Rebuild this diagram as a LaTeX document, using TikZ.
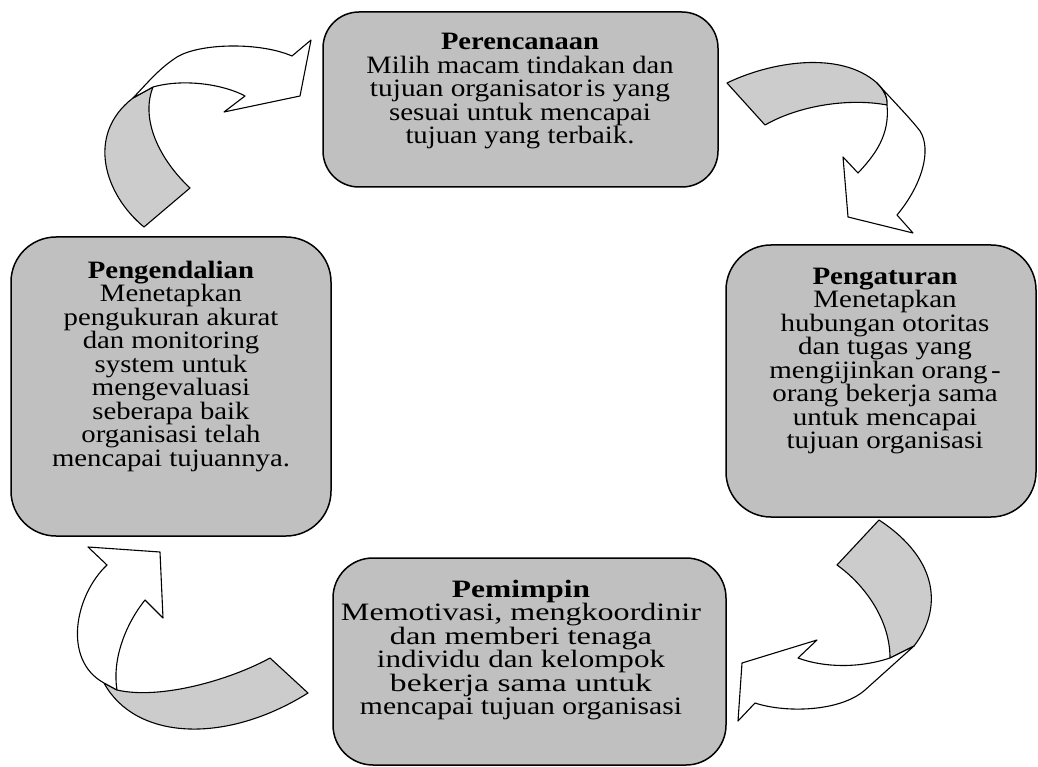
\documentclass[tikz,border=0pt]{standalone}
\usepackage{fontspec}
\setmainfont{Liberation Serif}
\usepackage{graphicx}
\definecolor{boxgray}{HTML}{C0C0C0}
\definecolor{arrgray}{HTML}{CCCCCC}
\newcommand\xs[2]{\rule[-6pt]{0pt}{23.5pt}\scalebox{#1}[1]{#2}}
\newcommand\lw[2]{\rule[-6pt]{0pt}{23.5pt}\resizebox{#1pt}{\height}{#2}}
\begin{document}
\begin{tikzpicture}[x=1pt,y=-1pt,
  box/.style={draw=black, line width=1.5pt, fill=boxgray, rounded corners=#1, inner sep=0pt},
  txt/.style={align=center, inner sep=0pt, font=\fontsize{25}{23.5}\selectfont},
  arrback/.style={draw=black, line width=1.1pt, fill=arrgray, line join=round},
  arrfront/.style={draw=black, line width=1.1pt, fill=white, line join=round}]
\useasboundingbox (0,0) rectangle (1038,767);

% boxes
\node[box=36, minimum width=395pt, minimum height=175pt] (per) at (520.5,99.5) {};
\node[box=45, minimum width=320pt, minimum height=299pt] (pgd) at (171,386.5) {};
\node[box=45, minimum width=310pt, minimum height=272pt] (pgt) at (881,381) {};
\node[box=40, minimum width=393pt, minimum height=207pt] (pem) at (529.5,661.5) {};

% texts
\node[txt] (perT) at (520,91.25) {\lw{158}{\textbf{Perencanaan}}\\
  \lw{307}{Milih macam tindakan dan}\\
  \lw{300}{tujuan organisator\hspace{3pt}is yang}\\
  \lw{262}{sesuai untuk mencapai}\\
  \lw{229}{tujuan yang terbaik.}};

\node[txt] (pgdT) at (171,366.25) {\xs{1.15}{\textbf{Pengendalian}}\\
  \xs{1.15}{Menetapkan}\\
  \xs{1.15}{pengukuran akurat}\\
  \xs{1.15}{dan monitoring}\\
  \xs{1.15}{system untuk}\\
  \xs{1.15}{mengevaluasi}\\
  \xs{1.15}{seberapa baik}\\
  \xs{1.15}{organisasi telah}\\
  \xs{1.15}{mencapai tujuannya.}};

\node[txt] (pgtT) at (885,360.5) {\xs{1.16}{\textbf{Pengaturan}}\\
  \xs{1.16}{Menetapkan}\\
  \xs{1.16}{hubungan otoritas}\\
  \xs{1.16}{dan tugas yang}\\
  \xs{1.16}{mengijinkan orang\hspace{3pt}-}\\
  \xs{1.16}{orang bekerja sama}\\
  \xs{1.16}{untuk mencapai}\\
  \xs{1.16}{tujuan organisasi}};

\node[txt] (pemT) at (521,650) {\lw{138}{\textbf{Pemimpin}}\\
  \lw{360}{Memotivasi, mengkoordinir}\\
  \lw{262}{dan memberi tenaga}\\
  \lw{288}{individu dan kelompok}\\
  \lw{262}{bekerja sama untuk}\\
  \lw{322}{mencapai tujuan organisasi}};

% arrow 1 (Pengendalian -> Perencanaan)
\draw[arrback] (133,98) -- (153,87) .. controls (140,120) and (160,160) .. (190,188)
  -- (144,227) .. controls (105,195) and (85,135) .. (133,98) -- cycle;
\draw[arrfront] (133,98) .. controls (150,80) and (160,68) .. (177,57)
  .. controls (200,43) and (260,42) .. (292,56) -- (311,40) -- (300,96) -- (224,112) -- (245,96)
  .. controls (225,85) and (185,78) .. (153,87) -- cycle;

% arrow 2 (Perencanaan -> Pengaturan)
\draw[arrback] (727,83) .. controls (770,62) and (840,50) .. (877,83)
  .. controls (884,90) and (888,98) .. (887,105)
  .. controls (850,98) and (800,105) .. (765,125) -- cycle;
\draw[arrfront] (877,83) .. controls (895,103) and (910,118) .. (920,131)
  .. controls (932,150) and (922,185) .. (897,215) -- (913,233) -- (848,217) -- (843,157) -- (858,173)
  .. controls (875,155) and (890,135) .. (887,105)
  .. controls (888,98) and (884,90) .. (877,83) -- cycle;

% arrow 3 (Pengaturan -> Pemimpin)
\draw[arrback] (879,520) -- (837,565) .. controls (865,585) and (890,620) .. (890,658)
  -- (914,646) .. controls (942,610) and (940,560) .. (879,520) -- cycle;
\draw[arrfront] (890,658) .. controls (860,668) and (825,668) .. (798,658) -- (817,640) -- (742,663)
  -- (738,721) -- (755,703) .. controls (785,713) and (840,712) .. (865,690) -- (914,646) -- cycle;

% arrow 4 (Pemimpin -> Pengendalian)
\draw[arrback] (104,683) .. controls (135,740) and (225,745) .. (308,693) -- (270,658)
  .. controls (230,680) and (160,700) .. (117,690) -- cycle;
\draw[arrfront] (107,565) -- (88,547) -- (160,552) -- (163,618) -- (145,600)
  .. controls (125,625) and (112,660) .. (117,690) -- (104,683)
  .. controls (62,660) and (75,595) .. (107,565) -- cycle;
\end{tikzpicture}
\end{document}
